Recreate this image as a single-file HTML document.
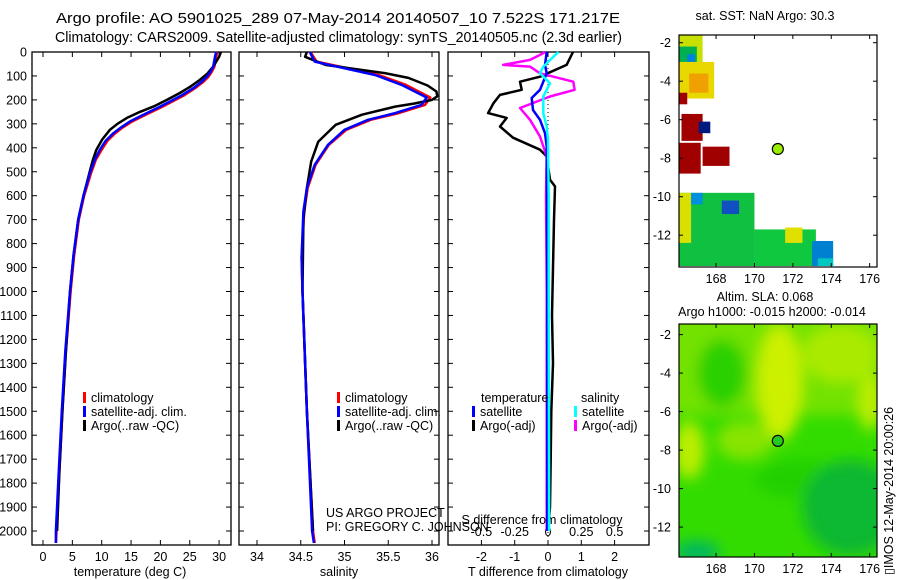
<!DOCTYPE html>
<html><head><meta charset="utf-8"><style>
html,body{margin:0;padding:0;background:#fff}
svg{display:block;font-family:"Liberation Sans",sans-serif}
text{fill:#000}
</style></head><body>
<svg id="chart" width="900" height="580" viewBox="0 0 900 580">
<text x="56" y="23" font-size="15" textLength="564" lengthAdjust="spacingAndGlyphs">Argo profile: AO 5901025_289 07-May-2014 20140507_10 7.522S 171.217E</text>
<text x="55" y="42" font-size="14.5" textLength="567" lengthAdjust="spacingAndGlyphs">Climatology: CARS2009. Satellite-adjusted climatology: synTS_20140505.nc (2.3d earlier)</text>
<g id="p1"></g>
<g id="p2"></g>
<g id="p3"></g>
<g id="m1"></g>
<g id="m2"></g>
<text x="765" y="20" font-size="12.5" text-anchor="middle">sat. SST: NaN Argo: 30.3</text>
<text x="765" y="301" font-size="12.5" text-anchor="middle">Altim. SLA: 0.068</text>
<text x="772" y="316" font-size="12.5" text-anchor="middle">Argo h1000: -0.015 h2000: -0.014</text>
<text transform="translate(893,575) rotate(-90)" font-size="12.5">▯IMOS 12-May-2014 20:00:26</text>
<text x="326" y="517" font-size="12.5">US ARGO PROJECT</text>
<text x="326" y="531" font-size="12.5">PI: GREGORY C. JOHNSON</text>
</svg>
<script>
// ---- data ----
const tClimDepth=[0,20,61,80,103,125,151,180,207,230,249,270,290,315,339,370,408,450,505,600,700,850,1000,1250,1500,1750,2000,2050];
const tClimVals=[29.7,29.5,29.2,28.8,28.2,27.3,25.9,24.1,22.0,20.2,18.6,16.8,15.2,13.6,12.3,11.0,10.0,9.0,8.2,7.0,6.1,5.3,4.7,3.9,3.3,2.8,2.3,2.2];
const tSatDepth=[0,20,61,80,103,125,151,180,207,230,249,270,290,315,339,370,408,450,505,600,700,850,1000,1250,1500,1750,2000,2050];
const tSatVals=[29.5,29.3,29.0,28.6,27.9,27.0,25.6,23.7,21.6,19.8,18.2,16.4,14.8,13.3,12.0,10.7,9.7,8.8,8.0,6.9,6.0,5.2,4.6,3.8,3.2,2.7,2.2,2.2];
const tArgoDepth=[0,20,61,90,117,145,171,200,228,250,275,300,325,365,408,450,495,600,700,850,1000,1250,1500,1750,2000];
const tArgoVals=[30.3,30.0,29.0,28.0,26.7,25.1,23.3,21.1,18.8,16.5,14.3,12.7,11.4,10.1,9.1,8.5,8.0,6.9,6.0,5.2,4.6,3.9,3.3,2.8,2.4];
const sClimDepth=[0,5,40,68,96,137,190,221,255,283,325,388,471,567,665,858,1000,1500,2000,2050];
const sClimVals=[34.61,34.62,34.68,35.04,35.39,35.70,35.98,35.92,35.62,35.30,35.02,34.82,34.67,34.58,34.54,34.51,34.52,34.57,34.64,34.66];
const sSatVals=[34.61,34.61,34.66,35.0,35.35,35.65,35.94,35.88,35.58,35.27,35.0,34.81,34.66,34.57,34.53,34.51,34.52,34.57,34.63,34.65];
const sArgoDepth=[0,20,54,88,108,140,165,185,200,215,228,262,304,374,457,567,700,1000,1500,2000];
const sArgoVals=[34.57,34.55,34.78,35.46,35.73,35.95,36.05,36.06,36.0,35.8,35.58,35.2,34.9,34.7,34.62,34.57,34.53,34.52,34.57,34.64];
const dTArgoDepth=[0,54,103,124,158,179,214,255,275,311,358,408,436,533,561,700,900,1100,1300,1500,1700,1900,2000];
const dTArgoVals=[0.75,0.56,-0.24,-0.84,-0.79,-1.44,-1.64,-1.8,-1.24,-1.44,-1.05,-0.24,-0.04,0.06,0.21,0.18,0.15,0.12,0.15,0.1,0.08,0.06,0.0];
const dTSatDepth=[0,54,89,158,192,242,283,339,394,600,1000,1500,2000];
const dTSatVals=[-0.04,-0.09,-0.04,-0.24,-0.49,-0.45,-0.24,-0.09,-0.04,-0.03,-0.02,-0.02,-0.02];
const dSSatDepth=[0,61,89,131,186,256,311,367,600,1000,1500,2000];
const dSSatVals=[0.078,-0.035,-0.06,0.015,-0.035,-0.035,-0.01,0.0,0.005,0.005,0.007,0.008];
const dSArgoDepth=[0,12,33,54,61,89,124,158,186,234,283,353,436,600,1000,1500,2000];
const dSArgoVals=[-0.02,-0.06,-0.135,-0.336,-0.135,-0.06,0.19,0.2,0.015,-0.21,-0.135,-0.06,-0.01,-0.015,-0.01,-0.01,-0.01];
const depthTicks=[0,100,200,300,400,500,600,700,800,900,1000,1100,1200,1300,1400,1500,1600,1700,1800,1900,2000];
const tempTicks=[0,5,10,15,20,25,30];
const salTicks=[34,34.5,35,35.5,36];
const tDiffTicks=[-2,-1,0,1,2];
const sDiffTicks=[-0.5,-0.25,0,0.25,0.5];
const lonTicks=[168,170,172,174,176];
const latTicks=[-2,-4,-6,-8,-10,-12];
const argoLon=171.217, argoLat=-7.522;
// SST map patches: [lon0, lat0, lon1, lat1, color]
const sstPatches=[
 [166.07,-1.6,167.3,-3.0,'#c8e000'],[166.07,-2.2,167.0,-3.5,'#00b050'],[166.5,-2.6,166.9,-3.0,'#0080e0'],
 [166.07,-3.0,167.9,-4.9,'#e8d800'],[166.6,-3.6,167.6,-4.6,'#f0a000'],[166.07,-4.6,166.5,-5.2,'#a00000'],
 [166.2,-5.7,167.3,-7.1,'#a00000'],[167.1,-6.1,167.7,-6.7,'#001a80'],[166.07,-7.2,167.2,-8.8,'#a00000'],
 [167.3,-7.4,168.7,-8.4,'#a00000'],[166.07,-9.8,170.0,-13.6,'#10c040'],[166.07,-9.8,166.7,-12.4,'#d8e000'],
 [170.0,-11.7,173.2,-13.6,'#10c840'],[171.6,-11.6,172.5,-12.4,'#e0e000'],[173.0,-12.3,174.1,-13.6,'#0080d0'],
 [173.3,-13.2,174.1,-13.6,'#00c8c0'],[168.3,-10.2,169.2,-10.9,'#1050c0'],[166.7,-9.8,167.3,-10.4,'#0090e0']
];
// SLA map blobs: [lon, lat, rx(deg), ry(deg), color]
const slaBlobs=[
 [171.3,-4.5,1.2,3.0,'#ccf000'],[174.5,-3.0,2.0,1.5,'#aaea00'],[166.6,-8.0,0.8,1.5,'#bbee00'],
 [168.3,-4.0,1.3,1.8,'#2ad000'],[172.5,-9.5,2.5,1.0,'#22d000'],[175,-11,2.5,2.5,'#10b830'],
 [167,-13.3,1.2,0.6,'#00b860'],[176,-5.5,0.6,1.5,'#bbee00'],[169.5,-7.5,1.5,1.0,'#88e400']
];
const NS='http://www.w3.org/2000/svg';
function el(tag,attrs,parent){const e=document.createElementNS(NS,tag);for(const k in attrs)e.setAttribute(k,attrs[k]);parent.appendChild(e);return e;}
const yD=d=>52+d*0.2395;
function frame(g,x0,x1,y0,y1){const r=el('rect',{x:x0,y:y0,width:x1-x0,height:y1-y0,fill:'none',stroke:'#000','stroke-width':1.3},g);

}
function line(g,depths,vals,xf,color,w,name){const pts=depths.map((d,i)=>xf(vals[i]).toFixed(1)+','+yD(d).toFixed(1)).join(' ');
const p=el('polyline',{points:pts,fill:'none',stroke:color,'stroke-width':w,'stroke-linejoin':'round'},g);

}
function txt(g,x,y,s,anchor,size,name){const t=el('text',{x:x,y:y,'font-size':size||12.5,'text-anchor':anchor||'start'},g);t.textContent=s;

return t;}
function depthAxis(g,x0,x1,labels){depthTicks.forEach(d=>{const y=yD(d);el('line',{x1:x0,x2:x0+5,y1:y,y2:y,stroke:'#000'},g);el('line',{x1:x1-5,x2:x1,y1:y,y2:y,stroke:'#000'},g);
if(labels)txt(g,27,y+4.5,String(d),'end',12.5,'depth-tick-label');});}
function xAxis(g,ticks,xf,yb,lab,top){ticks.forEach(v=>{const x=xf(v);el('line',{x1:x,x2:x,y1:yb-5,y2:yb,stroke:'#000'},g);if(top)el('line',{x1:x,x2:x,y1:52,y2:57,stroke:'#000'},g);
txt(g,x,yb+16,String(v),'middle',12.5,'x-tick-label');});}
function legend(g,x,y,items){items.forEach((it,i)=>{const yy=y+i*14;el('rect',{x:x,y:yy-10,width:3,height:11,fill:it[0]},g);txt(g,x+8,yy,it[1],'start',12.5,'legend-entry');});}
// panel 1
const p1=document.getElementById('p1');const xT=t=>43+5.87*t;
frame(p1,32,231,52,545);depthAxis(p1,32,231,true);xAxis(p1,tempTicks,xT,545,'',true);
line(p1,tClimDepth,tClimVals,xT,'#ff0000',2.5,'temp-climatology-line');
line(p1,tArgoDepth,tArgoVals,xT,'#000',2.5,'temp-argo-line');
line(p1,tSatDepth,tSatVals,xT,'#0000ff',2.5,'temp-satellite-line');
txt(p1,130,576,'temperature (deg C)','middle',12.5,'x-axis-title-temperature');
legend(p1,83,402,[['#f00','climatology'],['#00f','satellite-adj. clim.'],['#000','Argo(..raw -QC)']]);
// panel 2
const p2=document.getElementById('p2');const xS=s=>257+87.5*(s-34);
frame(p2,239,439,52,545);depthAxis(p2,239,439,false);xAxis(p2,salTicks,xS,545,'',true);
line(p2,sClimDepth,sClimVals,xS,'#ff0000',2.5,'sal-climatology-line');
line(p2,sArgoDepth,sArgoVals,xS,'#000',2.5,'sal-argo-line');
line(p2,sClimDepth,sSatVals,xS,'#0000ff',2.5,'sal-satellite-line');
txt(p2,339,576,'salinity','middle',12.5,'x-axis-title-salinity');
legend(p2,337,402,[['#f00','climatology'],['#00f','satellite-adj. clim.'],['#000','Argo(..raw -QC)']]);
// panel 3
const p3=document.getElementById('p3');const xTd=t=>548+33.3*t;const xSd=s=>548+133.2*s;
frame(p3,448,649,52,545);depthAxis(p3,448,649,false);xAxis(p3,tDiffTicks,xTd,545,'',true);
sDiffTicks.forEach(v=>txt(p3,xSd(v),536,String(v),'middle',12.5,'s-diff-tick-label'));
txt(p3,542,524,'S difference from climatology','middle',12.5,'s-diff-axis-title');
txt(p3,548,576,'T difference from climatology','middle',12.5,'t-diff-axis-title');
el('line',{x1:548,x2:548,y1:52,y2:545,stroke:'#000','stroke-dasharray':'1,3'},p3);
line(p3,dTArgoDepth,dTArgoVals,xTd,'#000',2.5,'tdiff-argo-line');
line(p3,dSArgoDepth,dSArgoVals,xSd,'#ff00ff',2.5,'sdiff-argo-line');
line(p3,dTSatDepth,dTSatVals,xTd,'#0000ff',2.5,'tdiff-satellite-line');
line(p3,dSSatDepth,dSSatVals,xSd,'#00ffff',2.5,'sdiff-satellite-line');
txt(p3,481,402,'temperature','start',12.5,'legend-title-temperature');
txt(p3,581,402,'salinity','start',12.5,'legend-title-salinity');
legend(p3,472,416,[['#00f','satellite'],['#000','Argo(-adj)']]);
legend(p3,574,416,[['#0ff','satellite'],['#f0f','Argo(-adj)']]);
// maps
function map(g,y0,y1,latTop){const xL=lon=>679+(lon-166.07)*19.2;const yL=lat=>y0+(latTop-lat)*19.25;return [xL,yL];}
const m1=document.getElementById('m1');const [x1L,y1L]=map(m1,35,267,-1.6);
sstPatches.forEach(p=>{const r=el('rect',{x:x1L(p[0]),y:y1L(p[1]),width:x1L(p[2])-x1L(p[0]),height:y1L(p[3])-y1L(p[1]),fill:p[4]},m1);

});
const m2=document.getElementById('m2');const [x2L,y2L]=map(m2,324,557,-1.45);
el('rect',{x:679,y:324,width:198,height:233,fill:'#33dc00'},m2);
const defs=el('defs',{},m2);const f=el('filter',{id:'bl',x:'-50%',y:'-50%',width:'200%',height:'200%'},defs);el('feGaussianBlur',{stdDeviation:7},f);
const cp=el('clipPath',{id:'cp2'},defs);el('rect',{x:679,y:324,width:198,height:233},cp);
const bg=el('g',{'clip-path':'url(#cp2)',filter:'url(#bl)'},m2);
el('rect',{x:660,y:310,width:240,height:105,fill:'#88e400',opacity:0.75},bg);
slaBlobs.forEach(b=>{const e=el('ellipse',{cx:x2L(b[0]),cy:y2L(b[1]),rx:b[2]*19.2,ry:b[3]*19.25,fill:b[4]},bg);

});
[[m1,35,267,x1L,y1L,'#99ee00'],[m2,324,557,x2L,y2L,'#22cc20']].forEach(([g,ya,yb,xL,yL,col],k)=>{
el('rect',{x:679,y:ya,width:198,height:yb-ya,fill:'none',stroke:'#000','stroke-width':1.2},g);
lonTicks.forEach(v=>{const x=xL(v);el('line',{x1:x,x2:x,y1:ya,y2:ya+4,stroke:'#000'},g);el('line',{x1:x,x2:x,y1:yb-4,y2:yb,stroke:'#000'},g);txt(g,x,yb+16,String(v),'middle',12.5,'lon-tick-label');});
latTicks.forEach(v=>{const y=yL(v);el('line',{x1:679,x2:683,y1:y,y2:y,stroke:'#000'},g);el('line',{x1:873,x2:877,y1:y,y2:y,stroke:'#000'},g);txt(g,671,y+4.5,String(v),'end',12.5,'lat-tick-label');});
const c=el('circle',{cx:xL(argoLon),cy:yL(argoLat),r:5.5,fill:col,stroke:'#000','stroke-width':1.2},g);

});
</script>
</body></html>
